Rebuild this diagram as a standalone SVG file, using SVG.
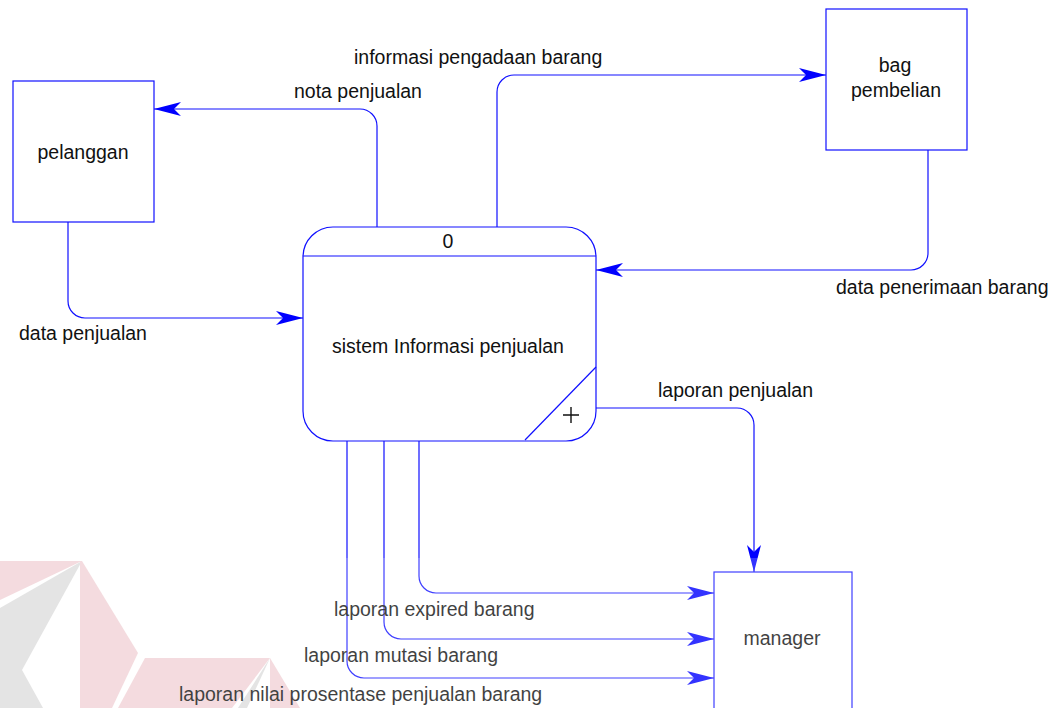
<svg xmlns="http://www.w3.org/2000/svg" width="1059" height="708" viewBox="0 0 1059 708">
  <style>
    .box { fill: #ffffff; stroke: #1010ff; stroke-width: 1.2; }
    .flow { fill: none; stroke: #1010ff; stroke-width: 1.2; marker-end: url(#arrow); }
    .lbl { font-family: "Liberation Sans", Arial, sans-serif; font-size: 19.5px; fill: #111111; }
    .mid { text-anchor: middle; }
  </style>
  <defs>
    <marker id="arrow" markerUnits="userSpaceOnUse" viewBox="-28 -8 30 16" refX="0" refY="0" markerWidth="30" markerHeight="16" orient="auto">
      <path d="M0,0 L-27,-7 Q-22,-2 -20,0 Q-22,2 -27,7 Z" fill="#0000ff"/>
    </marker>
  </defs>

  <rect width="1059" height="708" fill="#ffffff"/>

  <!-- background logo mark, lower left -->
  <g id="logo-mark">
    <polygon points="0,561 82,561 0,600" fill="#f2d3d7"/>
    <polygon points="0,608 82,561 22,670 43,708 0,708" fill="#dedede"/>
    <polygon points="80,561 82,561 138,653 112,708 80,708" fill="#f2d3d7"/>
    <polygon points="145,658 270,658 232,708 118,708" fill="#f2d3d7"/>
    <polygon points="270,658 238,708 247,708" fill="#dedede"/>
    <polygon points="270,658 300,708 270,708" fill="#f2d3d7"/>
  </g>

  <!-- data flows -->
  <g id="connectors">
    <path class="flow" d="M377,227 V126 A17,17 0 0 0 360,109 H154"/>
    <path class="flow" d="M497,227 V92 A17,17 0 0 1 514,75 H826"/>
    <path class="flow" d="M928,150 V253 A17,17 0 0 1 911,270 H596"/>
    <path class="flow" d="M68,222 V301 A17,17 0 0 0 85,318 H303"/>
    <path class="flow" d="M596,408 H737 A17,17 0 0 1 754,425 V572"/>
    <path class="flow" d="M419,441 V576 A17,17 0 0 0 436,593 H714"/>
    <path class="flow" d="M384,441 V622 A17,17 0 0 0 401,639 H714"/>
    <path class="flow" d="M347,441 V661 A17,17 0 0 0 364,678 H714"/>

    <text class="lbl" x="354" y="64">informasi pengadaan barang</text>
    <text class="lbl" x="294" y="98">nota penjualan</text>
    <text class="lbl" x="836" y="294">data penerimaan barang</text>
    <text class="lbl" x="19" y="340">data penjualan</text>
    <text class="lbl" x="658" y="397">laporan penjualan</text>
    <text class="lbl" x="334" y="616">laporan expired barang</text>
    <text class="lbl" x="304" y="662">laporan mutasi barang</text>
    <text class="lbl" x="179" y="701">laporan nilai prosentase penjualan barang</text>
  </g>

  <!-- external entities -->
  <g id="pelanggan">
    <rect class="box" x="13" y="81" width="141" height="141"/>
    <text class="lbl mid" x="83" y="159">pelanggan</text>
  </g>
  <g id="bag-pembelian">
    <rect class="box" x="826" y="9" width="141" height="141"/>
    <text class="lbl mid" x="895" y="72">bag</text>
    <text class="lbl mid" x="896" y="97">pembelian</text>
  </g>
  <g id="manager">
    <rect class="box" x="714" y="572" width="138" height="150"/>
    <text class="lbl mid" x="782" y="645">manager</text>
  </g>

  <!-- process 0 -->
  <g id="process-0">
    <rect class="box" x="303" y="227" width="293" height="214" rx="30" ry="30"/>
    <line x1="303" y1="256" x2="596" y2="256" stroke="#1010ff" stroke-width="1.2"/>
    <line x1="596" y1="367" x2="525" y2="440" stroke="#1010ff" stroke-width="1.2"/>
    <path d="M563,415 H579 M571,407 V423" stroke="#111111" stroke-width="1.4" fill="none"/>
    <text class="lbl mid" x="448" y="248">0</text>
    <text class="lbl mid" x="448" y="353">sistem Informasi penjualan</text>
  </g>

  <!-- faded lower band -->
  <rect x="0" y="558" width="1059" height="150" fill="#ffffff" opacity="0.2"/>
</svg>
